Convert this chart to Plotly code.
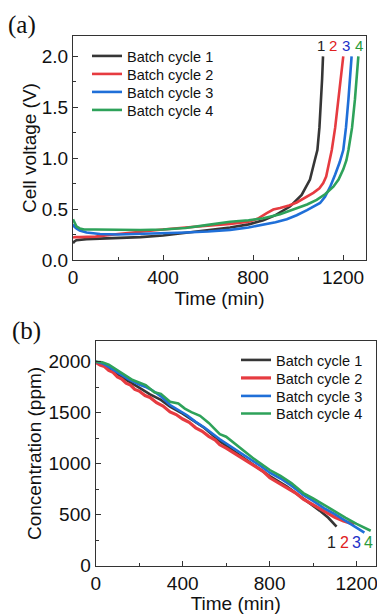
import plotly.graph_objects as go

W, H = 377, 614

# ---------------- Panel (a): cell voltage ----------------
series_names = ["Batch cycle 1", "Batch cycle 2", "Batch cycle 3", "Batch cycle 4"]
line_colors = ["#363636", "#e63b40", "#1f6fd8", "#2ea25a"]
label_colors = ["#222222", "#e02020", "#2030c8", "#2a9a3a"]
end_labels = ["1", "2", "3", "4"]

t_a1 = [0, 5, 15, 30, 60, 120, 200, 300, 400, 500, 600, 698, 780, 846, 900, 964, 1016, 1053, 1075, 1086, 1095, 1102, 1107, 1111]
v_a1 = [0.165, 0.18, 0.195, 0.2, 0.205, 0.21, 0.215, 0.225, 0.24, 0.265, 0.295, 0.32, 0.35, 0.39, 0.44, 0.525, 0.64, 0.79, 0.985, 1.08, 1.3, 1.55, 1.78, 2.0]

t_a2 = [0, 10, 30, 60, 100, 200, 300, 400, 500, 600, 698, 780, 820, 861, 890, 920, 960, 994, 1030, 1068, 1095, 1112, 1125, 1135, 1150, 1165, 1179, 1191, 1201]
v_a2 = [0.22, 0.225, 0.225, 0.225, 0.23, 0.255, 0.28, 0.30, 0.32, 0.335, 0.355, 0.375, 0.405, 0.46, 0.495, 0.51, 0.535, 0.565, 0.61, 0.66, 0.705, 0.755, 0.82, 0.92, 1.08, 1.3, 1.58, 1.8, 2.0]

t_a3 = [0, 5, 15, 30, 60, 120, 200, 300, 400, 500, 600, 698, 780, 846, 900, 950, 994, 1040, 1075, 1098, 1120, 1143, 1165, 1185, 1201, 1213, 1224, 1232, 1238]
v_a3 = [0.35, 0.33, 0.31, 0.29, 0.27, 0.255, 0.25, 0.255, 0.263, 0.27, 0.28, 0.296, 0.32, 0.345, 0.37, 0.40, 0.44, 0.49, 0.53, 0.56, 0.62, 0.72, 0.84, 0.96, 1.08, 1.3, 1.58, 1.8, 2.0]

t_a4 = [0, 5, 15, 30, 50, 100, 200, 300, 400, 500, 600, 698, 780, 846, 920, 994, 1040, 1083, 1120, 1157, 1180, 1201, 1215, 1224, 1240, 1253, 1262, 1268]
v_a4 = [0.40, 0.37, 0.33, 0.31, 0.30, 0.30, 0.295, 0.295, 0.30, 0.315, 0.345, 0.375, 0.39, 0.41, 0.45, 0.51, 0.545, 0.59, 0.645, 0.72, 0.79, 0.89, 0.98, 1.08, 1.3, 1.58, 1.8, 2.0]

# ---------------- Panel (b): concentration ----------------
t_b1 = [0, 30, 60, 100, 150, 200, 250, 300, 342, 400, 450, 500, 571, 650, 720, 801, 880, 955, 1030, 1070, 1108]
c_b1 = [2000, 1975, 1940, 1880, 1810, 1745, 1680, 1625, 1559, 1490, 1420, 1350, 1220, 1105, 1000, 878, 775, 661, 540, 470, 382]

t_b2 = [0, 20, 40, 60, 80, 100, 120, 140, 160, 180, 200, 227, 250, 280, 310, 342, 370, 400, 430, 460, 490, 520, 550, 571, 600, 640, 670, 700, 740, 770, 801, 840, 886, 920, 955, 1000, 1050, 1100, 1140, 1170, 1190]
c_b2 = [1995, 1968, 1952, 1915, 1895, 1850, 1830, 1790, 1770, 1728, 1712, 1668, 1650, 1598, 1565, 1508, 1482, 1438, 1405, 1352, 1318, 1268, 1232, 1185, 1152, 1098, 1062, 1020, 968, 925, 862, 815, 757, 712, 652, 596, 532, 475, 438, 418, 405]

t_b3 = [0, 30, 60, 100, 150, 200, 227, 260, 300, 342, 380, 420, 460, 500, 571, 640, 700, 760, 801, 850, 900, 955, 1000, 1050, 1100, 1150, 1200, 1236]
c_b3 = [2000, 1985, 1950, 1895, 1830, 1775, 1755, 1720, 1660, 1575, 1530, 1475, 1410, 1355, 1240, 1145, 1060, 975, 912, 855, 785, 695, 635, 565, 505, 440, 375, 325]

t_b4 = [0, 30, 60, 90, 130, 170, 230, 270, 300, 342, 380, 410, 440, 480, 520, 571, 600, 640, 680, 720, 801, 850, 900, 955, 1000, 1050, 1100, 1150, 1200, 1240, 1265]
c_b4 = [2000, 1995, 1970, 1930, 1870, 1820, 1770, 1700, 1685, 1608, 1590, 1540, 1505, 1470, 1400, 1290, 1265, 1195, 1130, 1060, 938, 880, 810, 712, 660, 595, 530, 470, 410, 365, 343]

x_ticks = [0, 400, 800, 1200]
ya_ticks = [0.0, 0.5, 1.0, 1.5, 2.0]
yb_ticks = [0, 500, 1000, 1500, 2000]

FONT = "Arial, Liberation Sans, sans-serif"
SERIF = "Times New Roman, Liberation Serif, serif"


def px(x):
    return x / W


def py(y):
    return 1 - y / H


# one single-entry legend per trace so the entries can sit at the reference spacing
a_leg_y = [56, 74, 92, 110]
b_leg_y = [360, 378, 396, 413.5]
a_leg_x = 87
b_leg_x = 236

fig = go.Figure()
a_data = [(t_a1, v_a1), (t_a2, v_a2), (t_a3, v_a3), (t_a4, v_a4)]
b_data = [(t_b1, c_b1), (t_b2, c_b2), (t_b3, c_b3), (t_b4, c_b4)]
legend_layout = {}
for i, (tx, vy) in enumerate(a_data):
    lname = "legend" if i == 0 else f"legend{i + 1}"
    fig.add_trace(go.Scatter(x=tx, y=vy, mode="lines", name=series_names[i],
                             line=dict(color=line_colors[i], width=2.6),
                             xaxis="x", yaxis="y", legend=lname))
    legend_layout[lname] = dict(x=px(a_leg_x), y=py(a_leg_y[i]), xanchor="left", yanchor="middle",
                                bgcolor="rgba(0,0,0,0)", borderwidth=0,
                                font=dict(family=FONT, size=14.5, color="#111111"))
for i, (tx, cy) in enumerate(b_data):
    lname = f"legend{i + 5}"
    fig.add_trace(go.Scatter(x=tx, y=cy, mode="lines", name=series_names[i],
                             line=dict(color=line_colors[i], width=3.2 if i == 1 else 2.6),
                             xaxis="x2", yaxis="y2", legend=lname))
    legend_layout[lname] = dict(x=px(b_leg_x), y=py(b_leg_y[i]), xanchor="left", yanchor="middle",
                                bgcolor="rgba(0,0,0,0)", borderwidth=0,
                                font=dict(family=FONT, size=14.5, color="#111111"))


def minor(dt):
    return dict(dtick=dt, ticks="inside", ticklen=3, tickwidth=1, tickcolor="#333333")


frame = dict(showline=True, mirror=True, linecolor="#333333", linewidth=1.2,
             ticks="inside", ticklen=5, tickwidth=1.2, tickcolor="#333333",
             showgrid=False, zeroline=False, automargin=False,
             ticklabeloverflow="allow",
             tickfont=dict(family=FONT, size=19, color="#111111"))


def title(text, standoff):
    return dict(text=text, font=dict(size=19, family=FONT, color="#111111"), standoff=standoff)


fig.update_layout(
    width=W, height=H, margin=dict(l=0, r=0, t=0, b=0, autoexpand=False),
    paper_bgcolor="white", plot_bgcolor="white",
    font=dict(family=FONT, color="#111111"),
    xaxis=dict(domain=[px(73), px(366)], range=[0, 1302], anchor="y",
               tickvals=x_ticks, minor=minor(200), title=title("Time (min)", 2), **frame),
    yaxis=dict(domain=[py(260), py(36)], range=[0, 2.2], anchor="x",
               tickvals=ya_ticks, tickformat=".1f", minor=minor(0.25),
               title=title("Cell voltage (V)", 0), **frame),
    xaxis2=dict(domain=[px(95.7), px(375.7)], range=[0, 1288], anchor="y2",
                tickvals=x_ticks, minor=minor(200), title=title("Time (min)", 4), **frame),
    yaxis2=dict(domain=[py(565.7), py(341.3)], range=[0, 2200], anchor="x2",
                tickvals=yb_ticks, minor=minor(250),
                title=title("Concentration (ppm)", 1), **frame),
    showlegend=True,
    **legend_layout,
)

annotations = []
# Panel letters
annotations.append(dict(text="(a)", x=px(22), y=py(25), xref="paper", yref="paper",
                        xanchor="center", yanchor="middle",
                        showarrow=False, font=dict(family=SERIF, size=25, color="#111111")))
annotations.append(dict(text="(b)", x=px(26), y=py(331), xref="paper", yref="paper",
                        xanchor="center", yanchor="middle",
                        showarrow=False, font=dict(family=SERIF, size=25, color="#111111")))
# Curve end labels
a_lbl_x = [321, 333, 346, 359]
b_lbl_x = [331, 344, 356, 368]
for i in range(4):
    annotations.append(dict(text=end_labels[i], x=px(a_lbl_x[i]), y=py(45), xref="paper", yref="paper",
                            xanchor="center", yanchor="middle",
                            showarrow=False, font=dict(family=FONT, size=15, color=label_colors[i])))
    annotations.append(dict(text=end_labels[i], x=px(b_lbl_x[i]), y=py(542), xref="paper", yref="paper",
                            xanchor="center", yanchor="middle",
                            showarrow=False, font=dict(family=FONT, size=16, color=label_colors[i])))
fig.update_layout(annotations=annotations)

fig.write_html("out.html", config={"displayModeBar": False},
               post_script="document.body.style.margin='0';")
